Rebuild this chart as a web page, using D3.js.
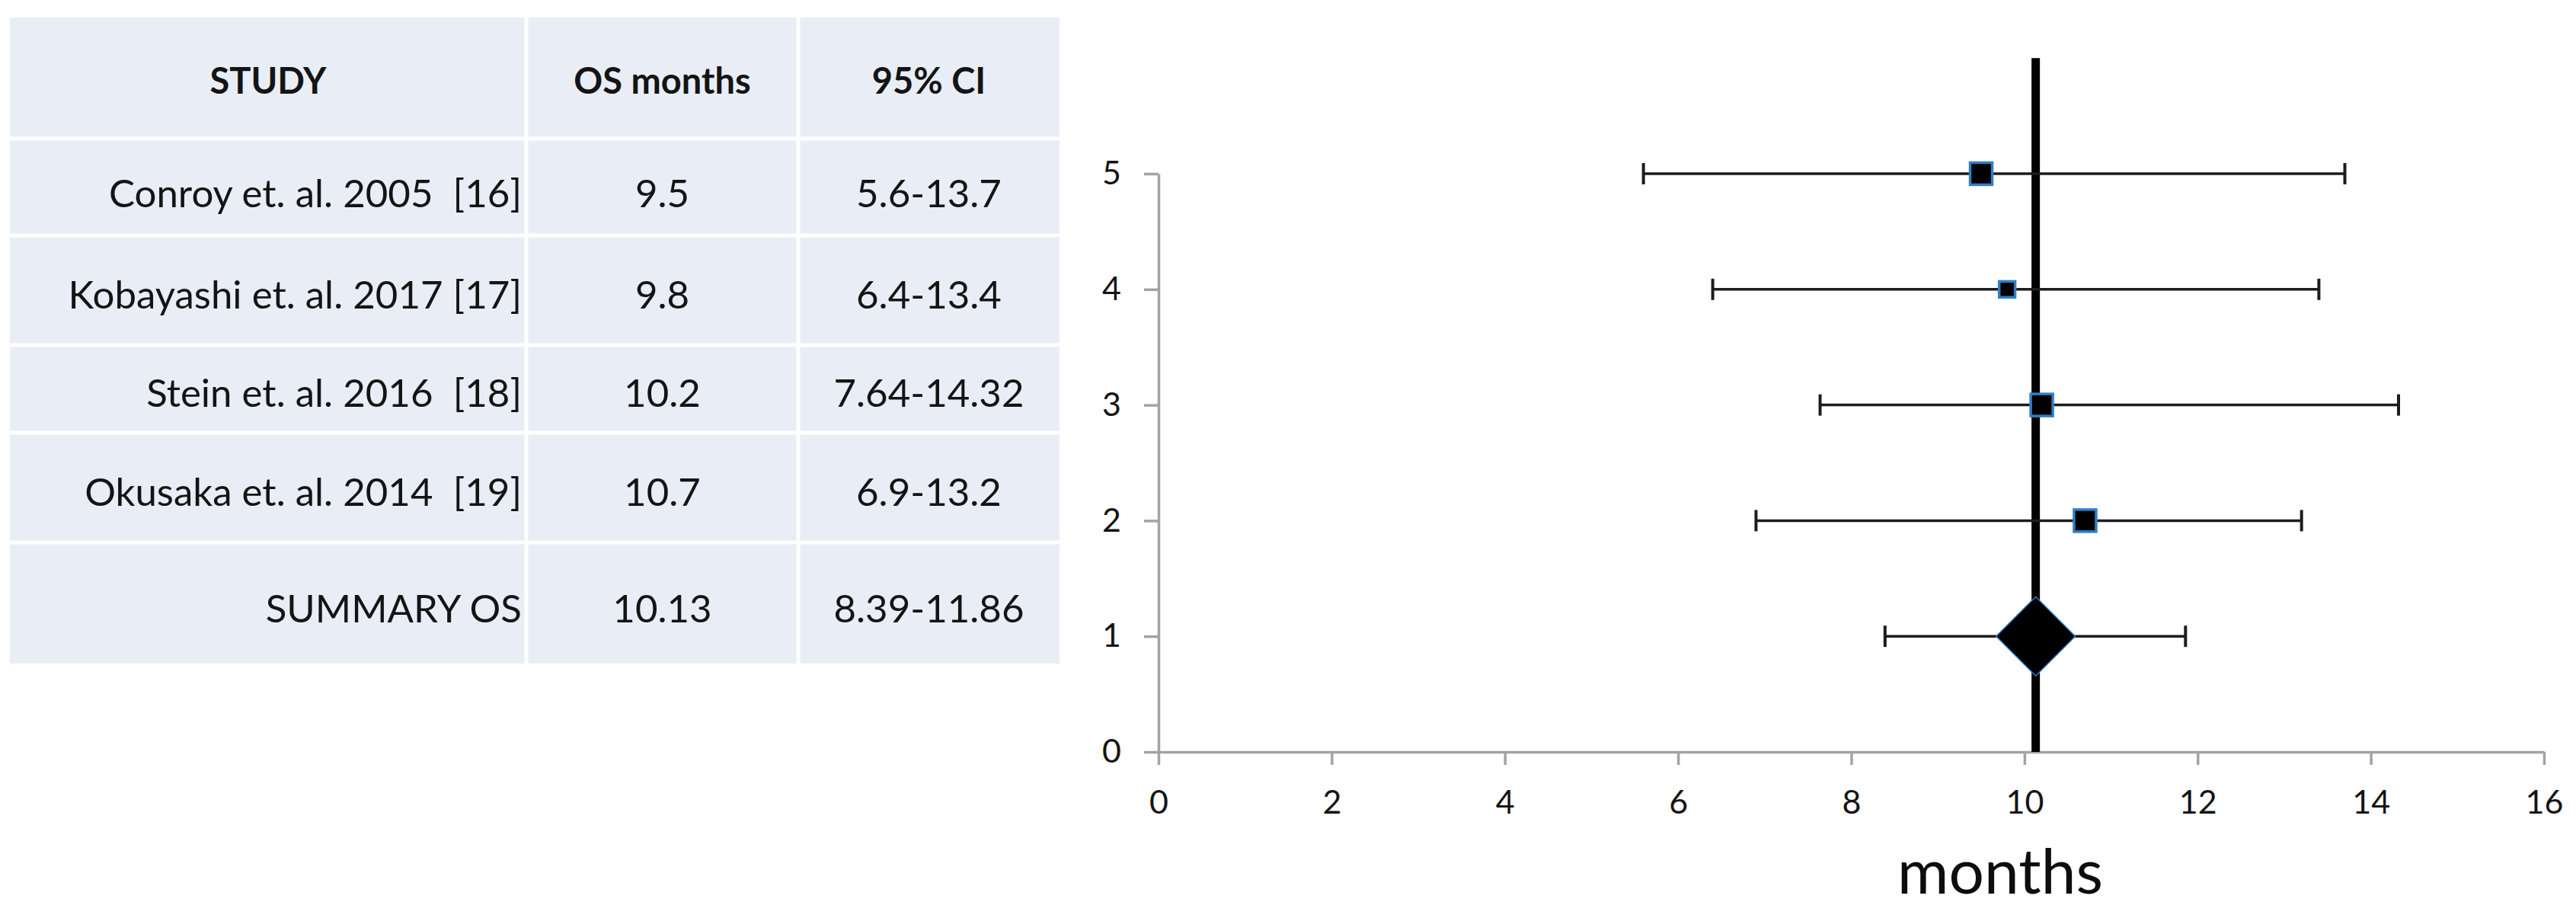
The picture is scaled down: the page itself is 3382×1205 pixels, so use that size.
<!DOCTYPE html>
<html>
<head>
<meta charset="utf-8">
<script src="https://cdn.jsdelivr.net/npm/d3@7"></script>
<style>
  body { margin: 0; background: #ffffff; }
  svg { display: block; }
  text { font-family: Lato, "Open Sans", sans-serif; white-space: pre; }
</style>
</head>
<body>
<svg id="chart" width="3382" height="1205"></svg>
<script>
// ---------------- DATA ----------------
const tableHeaders = ["STUDY", "OS months", "95% CI"];
const studyNames = [
  "Conroy et. al. 2005  [16]",
  "Kobayashi et. al. 2017 [17]",
  "Stein et. al. 2016  [18]",
  "Okusaka et. al. 2014  [19]",
  "SUMMARY OS"
];
const osMonths = [9.5, 9.8, 10.2, 10.7, 10.13];
const ciLow    = [5.6, 6.4, 7.64, 6.9, 8.39];
const ciHigh   = [13.7, 13.4, 14.32, 13.2, 11.86];
const plotRow  = [5, 4, 3, 2, 1];          // y position of each study in the plot
const studyWeight = [1, 0.72, 1, 1];       // relative marker size of individual studies
const summaryValue = 10.13;                // reference (vertical) line
const xTicks = [0, 2, 4, 6, 8, 10, 12, 14, 16];
const yTicks = [0, 1, 2, 3, 4, 5];
const xAxisTitle = "months";

// ---------------- LAYOUT ----------------
const svg = d3.select("#chart");
const cellFill = "#e9eef6";
const textColor = "#141414";

// table geometry
const colEdges = [13, 691, 1048, 1391];
const rowEdges = [23, 182, 309, 453, 568, 712, 871];
const gap = 5;
const rowTextY = [106, 254, 387, 516, 646, 799];
const bodyFont = 51;

const table = svg.append("g").attr("class", "table");
for (let r = 0; r < rowEdges.length - 1; r++) {
  for (let c = 0; c < colEdges.length - 1; c++) {
    const x0 = colEdges[c] + (c > 0 ? gap / 2 : 0);
    const x1 = colEdges[c + 1] - (c < colEdges.length - 2 ? gap / 2 : 0);
    const y0 = rowEdges[r] + (r > 0 ? gap / 2 : 0);
    const y1 = rowEdges[r + 1] - (r < rowEdges.length - 2 ? gap / 2 : 0);
    table.append("rect")
      .attr("x", x0).attr("y", y0)
      .attr("width", x1 - x0).attr("height", y1 - y0)
      .attr("fill", cellFill);
  }
}
const colCenter = c => (colEdges[c] + colEdges[c + 1]) / 2;

// header
table.selectAll("text.header")
  .data(tableHeaders)
  .join("text")
  .attr("class", "header")
  .attr("x", (d, i) => colCenter(i))
  .attr("y", rowTextY[0])
  .attr("dy", "0.36em")
  .attr("text-anchor", "middle")
  .attr("font-weight", 700)
  .attr("font-size", 47)
  .attr("fill", textColor)
  .text(d => d);

// body rows
const rows = studyNames.map((name, i) => ({
  name, os: osMonths[i], lo: ciLow[i], hi: ciHigh[i], ty: rowTextY[i + 1]
}));
const rowG = table.selectAll("g.row").data(rows).join("g").attr("class", "row");
rowG.append("text")
  .attr("x", colEdges[1] - 6)
  .attr("y", d => d.ty).attr("dy", "0.36em")
  .attr("text-anchor", "end")
  .attr("font-size", bodyFont).attr("fill", textColor)
  .text(d => d.name);
rowG.append("text")
  .attr("x", colCenter(1))
  .attr("y", d => d.ty).attr("dy", "0.36em")
  .attr("text-anchor", "middle")
  .attr("font-size", bodyFont).attr("fill", textColor)
  .text(d => String(d.os));
rowG.append("text")
  .attr("x", colCenter(2))
  .attr("y", d => d.ty).attr("dy", "0.36em")
  .attr("text-anchor", "middle")
  .attr("font-size", bodyFont).attr("fill", textColor)
  .text(d => `${d.lo}-${d.hi}`);

// ---------------- FOREST PLOT ----------------
const x = d3.scaleLinear().domain([0, 16]).range([1521, 3340]);
const y = d3.scaleLinear().domain([0, 5]).range([987, 228]);
const axisColor = "#a3a3a3";

const xAxisG = svg.append("g")
  .attr("transform", `translate(0,${y(0)})`)
  .call(d3.axisBottom(x).tickValues(xTicks).tickFormat(d3.format("d"))
        .tickSize(17).tickSizeOuter(0).tickPadding(33));
const yAxisG = svg.append("g")
  .attr("transform", `translate(${x(0)},0)`)
  .call(d3.axisLeft(y).tickValues(yTicks).tickFormat(d3.format("d"))
        .tickSize(19).tickSizeOuter(0).tickPadding(30));

[xAxisG, yAxisG].forEach(g => {
  g.select(".domain").attr("stroke", axisColor).attr("stroke-width", 3.5);
  g.selectAll(".tick line").attr("stroke", axisColor).attr("stroke-width", 3.5);
  g.selectAll(".tick text")
    .attr("fill", textColor)
    .attr("font-size", 43)
    .style("font-family", "Lato, 'Open Sans', sans-serif");
});

// x axis title
svg.append("text")
  .attr("x", 2626).attr("y", 1173)
  .attr("text-anchor", "middle")
  .attr("font-size", 82)
  .attr("fill", "#0d0d0d")
  .text(xAxisTitle);

// vertical summary line from 0 to 6
svg.append("line")
  .attr("x1", x(summaryValue)).attr("x2", x(summaryValue))
  .attr("y1", y(0)).attr("y2", y(6))
  .attr("stroke", "#000").attr("stroke-width", 11);

// error bars
const capH = 14;
const bars = svg.append("g").selectAll("g").data(rows).join("g");
bars.append("line")
  .attr("x1", d => x(d.lo)).attr("x2", d => x(d.hi))
  .attr("y1", (d, i) => y(plotRow[i])).attr("y2", (d, i) => y(plotRow[i]))
  .attr("stroke", "#1c1c1c").attr("stroke-width", 3.5);
bars.append("line")
  .attr("x1", d => x(d.lo)).attr("x2", d => x(d.lo))
  .attr("y1", (d, i) => y(plotRow[i]) - capH).attr("y2", (d, i) => y(plotRow[i]) + capH)
  .attr("stroke", "#1c1c1c").attr("stroke-width", 4);
bars.append("line")
  .attr("x1", d => x(d.hi)).attr("x2", d => x(d.hi))
  .attr("y1", (d, i) => y(plotRow[i]) - capH).attr("y2", (d, i) => y(plotRow[i]) + capH)
  .attr("stroke", "#1c1c1c").attr("stroke-width", 4);

// study markers (squares)
const sizeScale = d3.scaleLinear().domain([0, 1]).range([0, 29]);
const studies = rows.slice(0, 4).map((d, i) => ({ ...d, row: plotRow[i], w: studyWeight[i] }));
svg.append("g").selectAll("rect").data(studies).join("rect")
  .attr("x", d => x(d.os) - sizeScale(d.w) / 2)
  .attr("y", d => y(d.row) - sizeScale(d.w) / 2)
  .attr("width", d => sizeScale(d.w))
  .attr("height", d => sizeScale(d.w))
  .attr("fill", "#000")
  .attr("stroke", "#2f7fc6")
  .attr("stroke-width", 3.5);

// summary diamond
const summary = rows[4];
const dH = 52;
const cx = x(summary.os), cy = y(plotRow[4]);
svg.append("path")
  .attr("d", `M${cx},${cy - dH}L${cx + dH},${cy}L${cx},${cy + dH}L${cx - dH},${cy}Z`)
  .attr("fill", "#000")
  .attr("stroke", "#2f7fc6")
  .attr("stroke-width", 1.5);
</script>
</body>
</html>
